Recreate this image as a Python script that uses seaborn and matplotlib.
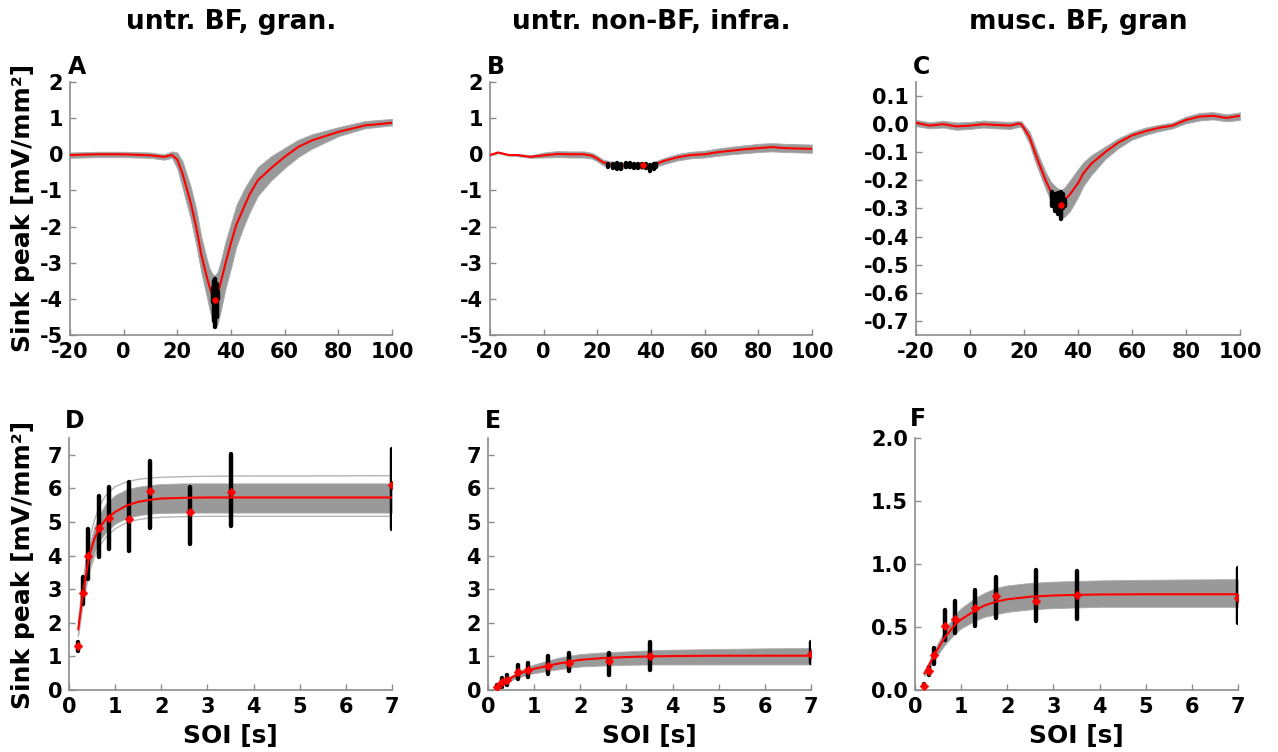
import matplotlib
matplotlib.use("Agg")
import matplotlib.pyplot as plt
import seaborn as sns

# ---------------- data ----------------
titles = ["untr. BF, gran.", "untr. non-BF, infra.", "musc. BF, gran"]
letters = ["A", "B", "C", "D", "E", "F"]
ylabel_txt = "Sink peak [mV/mm²]"
xlabel_txt = "SOI [s]"

# top row: time courses (ms)
tA = [-20, -10, 0, 10, 15, 18, 20, 22, 25, 27, 29, 31, 32, 33, 34, 35, 36, 38, 40, 42, 45, 47, 50, 55, 60, 65, 70, 80, 90, 100]
mA = [-0.02, 0.0, 0.0, -0.03, -0.07, -0.02, -0.15, -0.55, -1.35, -2.0, -2.8, -3.4, -3.66, -3.9, -4.03, -3.9, -3.6, -3.0, -2.45, -1.95, -1.43, -1.1, -0.72, -0.38, -0.07, 0.2, 0.38, 0.62, 0.8, 0.87]
loA = [-0.1, -0.08, -0.08, -0.1, -0.15, -0.1, -0.4, -0.95, -1.8, -2.5, -3.3, -3.95, -4.3, -4.6, -4.8, -4.7, -4.4, -3.7, -3.15, -2.55, -1.95, -1.6, -1.15, -0.72, -0.38, -0.08, 0.15, 0.5, 0.72, 0.8]
hiA = [0.05, 0.07, 0.07, 0.05, 0.0, 0.08, 0.05, -0.2, -0.9, -1.5, -2.3, -2.9, -3.15, -3.3, -3.35, -3.25, -3.0, -2.4, -1.9, -1.4, -0.95, -0.7, -0.35, -0.05, 0.18, 0.4, 0.55, 0.75, 0.92, 0.98]
pkA_t = [33.2, 33.8, 34.1, 34.6, 35.0]
pkA_lo = [-4.1, -4.6, -4.78, -4.5, -4.0]
pkA_hi = [-3.7, -3.5, -3.45, -3.6, -3.8]
mpA = (34.0, -4.03)

tB = [-20, -17, -13, -10, -5, 0, 5, 10, 15, 18, 20, 22, 25, 30, 35, 37, 40, 42, 45, 50, 55, 60, 65, 70, 75, 80, 85, 90, 95, 100]
mB = [-0.02, 0.05, -0.02, -0.02, -0.07, -0.03, 0.01, 0.0, 0.0, -0.04, -0.12, -0.22, -0.28, -0.31, -0.3, -0.33, -0.31, -0.26, -0.18, -0.08, -0.02, 0.0, 0.06, 0.1, 0.14, 0.17, 0.2, 0.17, 0.16, 0.15]
loB = [-0.04, 0.03, -0.04, -0.05, -0.1, -0.09, -0.08, -0.09, -0.09, -0.12, -0.2, -0.3, -0.36, -0.39, -0.38, -0.41, -0.39, -0.34, -0.27, -0.17, -0.11, -0.09, -0.04, 0.0, 0.03, 0.06, 0.08, 0.06, 0.05, 0.04]
hiB = [0.0, 0.07, 0.0, 0.01, -0.03, 0.05, 0.09, 0.08, 0.08, 0.04, -0.04, -0.14, -0.2, -0.23, -0.22, -0.25, -0.23, -0.18, -0.1, 0.01, 0.07, 0.1, 0.16, 0.21, 0.25, 0.29, 0.31, 0.29, 0.28, 0.27]
pkB_t = [24, 26, 27.5, 29, 30.5, 32, 33.5, 35, 36.5, 38, 39.5, 41, 42]
pkB_lo = [-0.35, -0.38, -0.42, -0.4, -0.36, -0.36, -0.38, -0.37, -0.36, -0.38, -0.45, -0.42, -0.35]
pkB_hi = [-0.28, -0.26, -0.24, -0.27, -0.25, -0.24, -0.26, -0.27, -0.28, -0.28, -0.3, -0.27, -0.28]
mpB = (37.0, -0.31)

tC = [-20, -15, -10, -5, 0, 5, 10, 15, 18, 19, 22, 24, 26, 28, 30, 32, 33.7, 35, 37, 40, 42, 45, 50, 55, 60, 65, 70, 75, 80, 85, 90, 95, 100]
mC = [0.005, -0.005, 0.0, -0.008, -0.005, 0.0, -0.003, -0.005, 0.002, 0.0, -0.045, -0.1, -0.15, -0.2, -0.24, -0.27, -0.286, -0.27, -0.25, -0.21, -0.175, -0.14, -0.1, -0.065, -0.04, -0.025, -0.013, -0.005, 0.015, 0.027, 0.03, 0.022, 0.03]
loC = [-0.007, -0.015, -0.012, -0.02, -0.017, -0.012, -0.015, -0.017, -0.01, -0.012, -0.07, -0.13, -0.18, -0.23, -0.275, -0.31, -0.335, -0.33, -0.31, -0.26, -0.22, -0.18, -0.125, -0.085, -0.055, -0.038, -0.025, -0.015, 0.003, 0.013, 0.017, 0.01, 0.015]
hiC = [0.015, 0.007, 0.012, 0.006, 0.008, 0.013, 0.01, 0.008, 0.012, 0.01, -0.025, -0.075, -0.125, -0.17, -0.205, -0.225, -0.235, -0.225, -0.2, -0.16, -0.135, -0.11, -0.08, -0.05, -0.028, -0.012, -0.002, 0.006, 0.027, 0.04, 0.043, 0.035, 0.042]
pkC_t = [30.5, 31.5, 32.5, 33.7, 34.5, 35.3]
pkC_lo = [-0.29, -0.31, -0.32, -0.336, -0.3, -0.29]
pkC_hi = [-0.24, -0.25, -0.245, -0.24, -0.25, -0.27]
mpC = (33.7, -0.286)

# bottom row: SOI dependence
soi = [0.2, 0.31, 0.42, 0.65, 0.87, 1.3, 1.75, 2.62, 3.5, 7.0]
D_red = [1.31, 2.9, 4.0, 4.82, 5.12, 5.09, 5.91, 5.29, 5.9, 6.1]
D_min = [1.17, 2.55, 3.3, 3.96, 4.2, 4.15, 4.81, 4.35, 4.88, 4.78]
D_max = [1.43, 3.36, 4.78, 5.76, 6.05, 6.18, 6.82, 6.05, 7.02, 7.17]
E_red = [0.08, 0.25, 0.3, 0.54, 0.59, 0.71, 0.81, 0.86, 1.02, 1.07]
E_min = [0.0, 0.1, 0.15, 0.32, 0.4, 0.47, 0.57, 0.45, 0.6, 0.81]
E_max = [0.15, 0.35, 0.45, 0.74, 0.79, 1.02, 1.11, 1.11, 1.43, 1.43]
F_red = [0.035, 0.15, 0.277, 0.507, 0.56, 0.654, 0.744, 0.707, 0.752, 0.733]
F_min = [0.02, 0.12, 0.21, 0.396, 0.45, 0.51, 0.575, 0.55, 0.56, 0.53]
F_max = [0.05, 0.185, 0.33, 0.633, 0.71, 0.79, 0.897, 0.95, 0.945, 0.97]

xD = [0.2, 0.31, 0.44, 0.55, 0.67, 0.8, 1.0, 1.25, 1.5, 1.76, 2.0, 2.5, 3.0, 4.0, 5.0, 7.0]
fitD = [1.8, 2.97, 4.0, 4.5, 4.85, 5.08, 5.3, 5.49, 5.6, 5.66, 5.7, 5.72, 5.73, 5.73, 5.73, 5.73]
loD = [1.65, 2.7, 3.65, 4.1, 4.45, 4.7, 4.95, 5.12, 5.2, 5.25, 5.27, 5.28, 5.28, 5.28, 5.28, 5.28]
hiD = [1.95, 3.2, 4.3, 4.85, 5.25, 5.55, 5.8, 5.97, 6.05, 6.1, 6.13, 6.15, 6.15, 6.15, 6.15, 6.15]
outloD = [1.6, 2.6, 3.5, 3.95, 4.3, 4.55, 4.8, 4.98, 5.07, 5.12, 5.14, 5.16, 5.17, 5.17, 5.17, 5.17]
outhiD = [2.0, 3.3, 4.45, 5.05, 5.5, 5.8, 6.05, 6.2, 6.27, 6.31, 6.33, 6.35, 6.36, 6.37, 6.37, 6.38]

xE = [0.2, 0.31, 0.42, 0.65, 0.87, 1.0, 1.3, 1.5, 1.75, 2.0, 2.5, 3.0, 3.5, 4.0, 5.0, 6.0, 7.0]
fitE = [0.12, 0.22, 0.3, 0.47, 0.58, 0.63, 0.72, 0.78, 0.84, 0.9, 0.95, 0.98, 1.0, 1.01, 1.02, 1.02, 1.02]
loE = [0.08, 0.17, 0.24, 0.37, 0.46, 0.5, 0.57, 0.61, 0.66, 0.7, 0.73, 0.75, 0.76, 0.76, 0.76, 0.76, 0.76]
hiE = [0.15, 0.27, 0.36, 0.55, 0.69, 0.76, 0.88, 0.95, 1.02, 1.07, 1.12, 1.15, 1.18, 1.2, 1.22, 1.24, 1.25]

xF = [0.2, 0.31, 0.42, 0.55, 0.65, 0.87, 1.0, 1.3, 1.5, 1.75, 2.0, 2.5, 3.0, 3.5, 4.0, 5.0, 7.0]
fitF = [0.13, 0.2, 0.28, 0.36, 0.42, 0.52, 0.56, 0.63, 0.67, 0.7, 0.72, 0.74, 0.75, 0.755, 0.758, 0.76, 0.76]
loF = [0.11, 0.17, 0.24, 0.31, 0.36, 0.45, 0.49, 0.55, 0.58, 0.6, 0.62, 0.64, 0.65, 0.655, 0.66, 0.66, 0.66]
hiF = [0.15, 0.23, 0.32, 0.41, 0.48, 0.6, 0.65, 0.73, 0.77, 0.81, 0.83, 0.85, 0.86, 0.865, 0.87, 0.875, 0.88]

# ticks
top_xticks = [-20, 0, 20, 40, 60, 80, 100]
ticksAB = [-5, -4, -3, -2, -1, 0, 1, 2]
ticksC = [-0.7, -0.6, -0.5, -0.4, -0.3, -0.2, -0.1, 0.0, 0.1]
ticksC_lbl = ["-0.7", "-0.6", "-0.5", "-0.4", "-0.3", "-0.2", "-0.1", "0.0", "0.1"]
bot_xticks = [0, 1, 2, 3, 4, 5, 6, 7]
ticksDE = [0, 1, 2, 3, 4, 5, 6, 7]
ticksF = [0.0, 0.5, 1.0, 1.5, 2.0]
ticksF_lbl = ["0.0", "0.5", "1.0", "1.5", "2.0"]

# ---------------- style ----------------
sns.set_theme(style="white")
plt.rcParams["font.family"] = ["DejaVu Sans"]
plt.rcParams["font.weight"] = "bold"
plt.rcParams["axes.unicode_minus"] = False
plt.rcParams["text.color"] = "black"
plt.rcParams["axes.labelcolor"] = "black"
plt.rcParams["xtick.color"] = "black"
plt.rcParams["ytick.color"] = "black"

W, H = 1278, 752
fig = plt.figure(figsize=(W / 100, H / 100), dpi=100)

def box(l, r, t, b):
    return [l / W, 1 - b / H, (r - l) / W, (b - t) / H]

axA = fig.add_axes(box(70, 392, 82, 335))
axB = fig.add_axes(box(490, 812, 82, 335))
axC = fig.add_axes(box(916, 1240, 82, 335))
axD = fig.add_axes(box(69, 392, 438, 690))
axE = fig.add_axes(box(488, 811, 438, 690))
axF = fig.add_axes(box(915, 1238, 438, 690))

SP = "#8c8c8c"
BAND = "#999999"

def style(ax):
    for s in ["top", "right"]:
        ax.spines[s].set_visible(False)
    for s in ["left", "bottom"]:
        ax.spines[s].set_color(SP)
        ax.spines[s].set_linewidth(1.2)
    ax.tick_params(direction="in", length=4, width=1, color=SP, labelcolor="black",
                   labelsize=15, pad=5, top=False, right=False, bottom=True, left=True)
    ax.grid(False)
    ax.set_facecolor("white")

def top_panel(ax, t, m, lo, hi, pk_t, pk_lo, pk_hi, mp, ylim, yt, ytl):
    ax.fill_between(t, lo, hi, color=BAND, lw=0.6, edgecolor="#aaaaaa", zorder=1)
    sns.lineplot(x=t, y=m, ax=ax, color="red", lw=1.5, estimator=None, sort=False, zorder=3)
    ax.vlines(pk_t, pk_lo, pk_hi, color="black", lw=3.2, capstyle="round", zorder=4)
    sns.scatterplot(x=[mp[0]], y=[mp[1]], ax=ax, color="red", marker="o", s=18,
                    edgecolor="red", zorder=5)
    ax.set_xlim(-20, 100)
    ax.set_ylim(*ylim)
    ax.set_xticks(top_xticks)
    ax.set_xticklabels([str(v) for v in top_xticks])
    ax.set_yticks(yt)
    ax.set_yticklabels(ytl)
    ax.set_xlabel("")
    ax.set_ylabel("")
    style(ax)

def bot_panel(ax, xf, fit, lo, hi, red, mn, mx, ylim, yt, ytl, outer=None):
    ax.fill_between(xf, lo, hi, color=BAND, lw=0.6, edgecolor="#aaaaaa", zorder=1)
    if outer is not None:
        for o in outer:
            ax.plot(xf, o, color="#b5b5b5", lw=1.0, zorder=1)
    ax.vlines(soi, mn, mx, color="black", lw=3.2, capstyle="round", zorder=2)
    sns.lineplot(x=xf, y=fit, ax=ax, color="red", lw=1.5, estimator=None, sort=False, zorder=3)
    sns.scatterplot(x=soi, y=red, ax=ax, color="red", marker="D", s=20,
                    edgecolor="red", zorder=5)
    ax.set_xlim(0, 7)
    ax.set_ylim(*ylim)
    ax.set_xticks(bot_xticks)
    ax.set_xticklabels([str(v) for v in bot_xticks])
    ax.set_yticks(yt)
    ax.set_yticklabels(ytl)
    ax.set_ylabel("")
    ax.set_xlabel("")
    ax.text(0.5, -0.183, xlabel_txt, transform=ax.transAxes, ha="center", va="center",
            fontsize=18, fontweight="bold", color="black")
    style(ax)

top_panel(axA, tA, mA, loA, hiA, pkA_t, pkA_lo, pkA_hi, mpA, (-5, 2), ticksAB, [str(v) for v in ticksAB])
top_panel(axB, tB, mB, loB, hiB, pkB_t, pkB_lo, pkB_hi, mpB, (-5, 2), ticksAB, [str(v) for v in ticksAB])
top_panel(axC, tC, mC, loC, hiC, pkC_t, pkC_lo, pkC_hi, mpC, (-0.75, 0.15), ticksC, ticksC_lbl)

bot_panel(axD, xD, fitD, loD, hiD, D_red, D_min, D_max, (0, 7.5), ticksDE, [str(v) for v in ticksDE],
          outer=[outloD, outhiD])
bot_panel(axE, xE, fitE, loE, hiE, E_red, E_min, E_max, (0, 7.5), ticksDE, [str(v) for v in ticksDE])
bot_panel(axF, xF, fitF, loF, hiF, F_red, F_min, F_max, (0, 2.0), ticksF, ticksF_lbl)

for ax, title in zip([axA, axB, axC], titles):
    ax.text(0.5, 1.237, title, transform=ax.transAxes, ha="center", va="center",
            fontsize=19, fontweight="bold", color="black")

for ax, letter, (lx, ly) in zip([axA, axB, axC, axD, axE, axF], letters,
                                [(-0.008, 1.06), (-0.01, 1.06), (-0.01, 1.06),
                                 (-0.014, 1.067), (-0.01, 1.067), (-0.016, 1.075)]):
    ax.text(lx, ly, letter, transform=ax.transAxes, ha="left", va="center",
            fontsize=17, fontweight="bold", color="black")

fig.text(23 / W, 1 - 208 / H, ylabel_txt, rotation=90, ha="center", va="center",
         fontsize=18, fontweight="bold", color="black")
fig.text(23 / W, 1 - 565 / H, ylabel_txt, rotation=90, ha="center", va="center",
         fontsize=18, fontweight="bold", color="black")

fig.savefig("out.png", dpi=100, facecolor="white")
